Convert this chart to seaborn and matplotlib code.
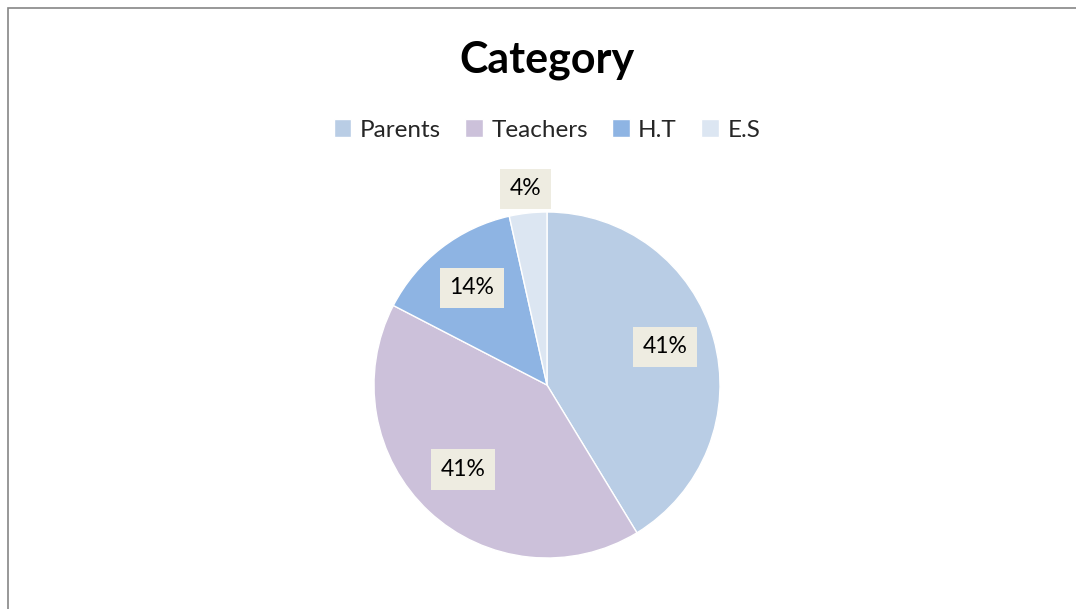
import numpy as np
import matplotlib
matplotlib.use("Agg")
import matplotlib.pyplot as plt
import seaborn as sns
from matplotlib.patches import Rectangle

categories = ["Parents", "Teachers", "H.T", "E.S"]
values = [41.3, 41.3, 13.9, 3.5]
colors = ["#B9CDE5", "#CCC1DA", "#8EB4E3", "#DCE6F2"]
title = "Category"

sns.set_theme(style="white")
plt.rcParams["font.family"] = ["Lato", "DejaVu Sans"]

W, H = 1076, 609
fig = plt.figure(figsize=(W / 100, H / 100), dpi=100)
fig.patch.set_facecolor("white")

cx, cy, r = 547, 385, 173
ax = fig.add_axes([(cx - r) / W, (H - cy - r) / H, 2 * r / W, 2 * r / H])
wedges, _ = ax.pie(values, colors=colors, startangle=90, counterclock=False,
                   wedgeprops=dict(edgecolor="white", linewidth=1.0))
ax.set_xlim(-1, 1)
ax.set_ylim(-1, 1)
ax.set_aspect("equal")
ax.axis("off")

total = sum(values)
for w, v in zip(wedges, values):
    pct = v / total * 100
    mid = np.deg2rad((w.theta1 + w.theta2) / 2)
    d = 0.71 if pct > 8 else 1.14
    ax.text(d * np.cos(mid), d * np.sin(mid) + (0.03 if pct > 30 else 0),
            f"{int(round(pct + 1e-9))}%",
            ha="center", va="center", fontsize=16.5, color="black",
            bbox=dict(boxstyle="square,pad=0.42", fc="#EEECE1", ec="none"),
            clip_on=False)

fig.text(cx / W, 1 - 60 / H, title, ha="center", va="center",
         fontsize=31, fontweight="bold", color="black")

fig.legend(wedges, categories, loc="center", bbox_to_anchor=(cx / W, 1 - 130 / H),
           ncol=4, frameon=False, fontsize=17.5, handlelength=0.72, handleheight=0.72,
           handletextpad=0.35, columnspacing=1.0)

fig.patches.append(Rectangle((7.5 / W, -0.1), 1.2, 1 - 7.5 / H + 0.1,
                             transform=fig.transFigure, fill=False,
                             edgecolor="#868686", linewidth=1.2, zorder=10))

fig.savefig("out.png", dpi=100, facecolor="white")
